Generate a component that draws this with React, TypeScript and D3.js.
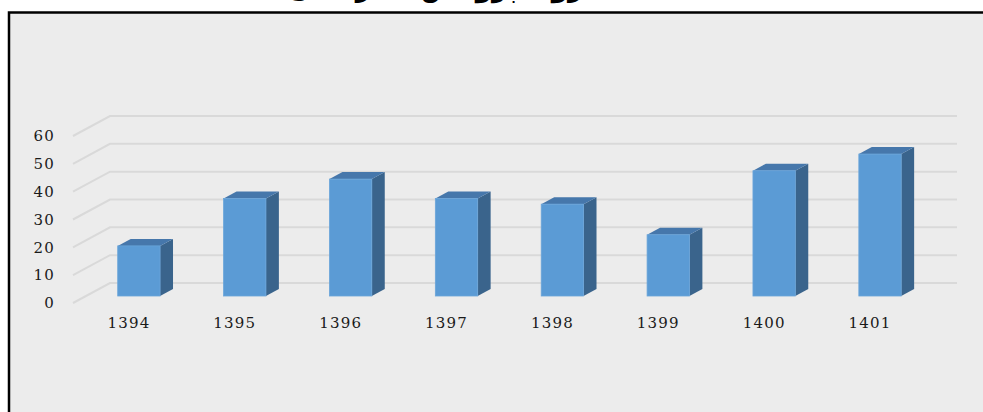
import React from "react";
import * as d3 from "d3";

const years = ["1394", "1395", "1396", "1397", "1398", "1399", "1400", "1401"];
const values = [18, 35, 42, 35, 33, 22, 45, 51];
const yTicks = [0, 10, 20, 30, 40, 50, 60];
const title = "روند پژوهش‌ها در سال‌ها";

function App() {
  const width = 983;
  const height = 412;

  // depth of the floor (back wall offset) and of a bar
  const depthX = 37;
  const depthY = -20;
  const barFront = 0.35;
  const barBack = 0.7;

  const x = d3.scaleBand<string>()
    .domain(years)
    .range([73, 920])
    .paddingInner(0.6)
    .paddingOuter(0.3);

  const y = d3.scaleLinear().domain([0, 60]).range([303, 136]);

  const face = (i: number, v: number) => {
    const x0 = x(years[i])! + depthX * barFront;
    const x1 = x0 + x.bandwidth();
    const yb = y(0) + depthY * barFront;
    const yt = y(v) + depthY * barFront;
    const dx = depthX * (barBack - barFront);
    const dy = depthY * (barBack - barFront);
    return {x0, x1, yb, yt, dx, dy};
  };

  return (
    <svg width={width} height={height} style={{position: "absolute", left: 0, top: 0}}>
      <rect x={0} y={0} width={width} height={height} fill="#ffffff" />
      <rect x={9} y={12.5} width={width + 20} height={height + 20} fill="#ececec" stroke="#000" strokeWidth={2.5} />
      <text x={422} y={-3} textAnchor="middle" fontFamily="DejaVu Sans" fontWeight="bold" fontSize={26} fill="#000" direction="rtl">
        {title}
      </text>

      <g stroke="#d9d9d9" strokeWidth={2} fill="none">
        {yTicks.map(t => (
          <path key={t} d={`M${x.range()[0]},${y(t)} L${x.range()[0] + depthX},${y(t) + depthY} L${x.range()[1] + depthX},${y(t) + depthY}`} />
        ))}
      </g>

      <g fontFamily="DejaVu Serif" fontSize={15} fill="#1a1a1a" letterSpacing={1.2}>
        {yTicks.map(t => (
          <text key={t} x={55} y={y(t)} dy="0.35em" textAnchor="end">{t}</text>
        ))}
        {years.map(yr => (
          <text key={yr} x={x(yr)! + x.bandwidth() / 2 + 3} y={328} textAnchor="middle">{yr}</text>
        ))}
      </g>

      {values.map((v, i) => {
        const f = face(i, v);
        return (
          <g key={years[i]}>
            <path d={`M${f.x1},${f.yb} L${f.x1 + f.dx},${f.yb + f.dy} L${f.x1 + f.dx},${f.yt + f.dy} L${f.x1},${f.yt} Z`} fill="#3a648c" />
            <path d={`M${f.x0},${f.yt} L${f.x0 + f.dx},${f.yt + f.dy} L${f.x1 + f.dx},${f.yt + f.dy} L${f.x1},${f.yt} Z`} fill="#4677ab" />
            <rect x={f.x0} y={f.yt} width={f.x1 - f.x0} height={f.yb - f.yt} fill="#5b9bd5" stroke="#6aa5da" strokeWidth={0.8} />
          </g>
        );
      })}
    </svg>
  );
}

export default App;
